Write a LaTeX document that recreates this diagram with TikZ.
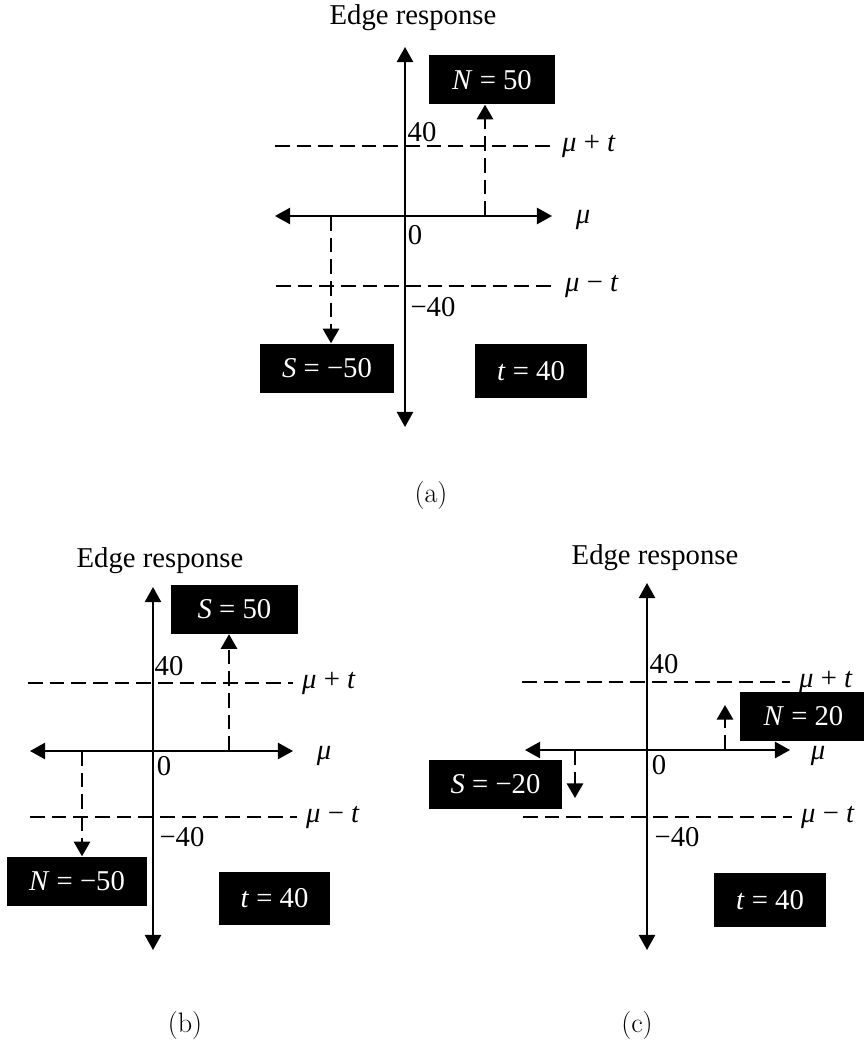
\documentclass[tikz,border=0pt]{standalone}
\usepackage{fontspec}
\usetikzlibrary{arrows.meta}
\newfontfamily\tnr{Liberation Serif}
\tikzset{
  valbox/.style={fill=black,text=white,inner xsep=0.66cm,minimum width=3.8cm,minimum height=1.47cm},
  tbox/.style={minimum width=0pt,minimum height=1.6cm},
  thl/.style={anchor=west,inner sep=0.27cm},
  axx/.style={line width=1.6pt,{Triangle[length=13pt,width=14pt]}-{Triangle[length=13pt,width=14pt]}},
  thr/.style={line width=1.5pt,dash pattern=on 12.5pt off 6pt},
  drop/.style={thr,-{Triangle[length=12.5pt,width=14pt]}},
  capt/.style={font=\rmfamily\fontsize{24}{28}\selectfont},
}

\begin{document}
\begin{tikzpicture}[x=0.03cm,y=-0.03cm,every node/.style={font=\tnr\fontsize{24.5}{29}\selectfont}]
\useasboundingbox (0,0) rectangle (863,1044);
% (a)
\node (a_ttl) at (413,18) {Edge response};
\coordinate (a_top) at (405,47);
\coordinate (a_bot) at (405,427);
\coordinate (a_lft) at (275,216);
\coordinate (a_rgt) at (552,216);
\draw[axx] (a_bot) -- (a_top);
\draw[axx] (a_lft) -- (a_rgt);
\node (a_mu) at (583,220) {\textit{μ}};
\node[thl] (a_up) at (553,146) {\textit{μ} + \textit{t}};
\node[thl] (a_dn) at (556,286) {\textit{μ} − \textit{t}};
\coordinate (a_ul) at (275,146);
\coordinate (a_dl) at (276,286);
\draw[thr] (a_ul) -- (a_up);
\draw[thr] (a_dl) -- (a_dn);
\node (a_p40) at (422,132) {40};
\node (a_z) at (415,235) {0};
\node (a_m40) at (433,307) {−40};
\node[valbox] (a_n) at (492,80) {\textit{N} = 50};
\node[valbox] (a_s) at (327,368) {\textit{S} = −50};
\node[valbox,tbox] (a_t) at (531,371) {\textit{t} = 40};
\coordinate (a_nx) at (485,216);
\coordinate (a_sx) at (331,216);
\draw[drop] (a_nx) -- (a_nx |- a_n.south);
\draw[drop] (a_sx) -- (a_sx |- a_s.north);
\node[capt] (a_cap) at (431,495) {(a)};
% (b)
\node (b_ttl) at (160,561) {Edge response};
\coordinate (b_top) at (153,587);
\coordinate (b_bot) at (153,950);
\coordinate (b_lft) at (30,751);
\coordinate (b_rgt) at (293,751);
\draw[axx] (b_bot) -- (b_top);
\draw[axx] (b_lft) -- (b_rgt);
\node (b_mu) at (324,756) {\textit{μ}};
\node[thl] (b_up) at (293,683) {\textit{μ} + \textit{t}};
\node[thl] (b_dn) at (297,817) {\textit{μ} − \textit{t}};
\coordinate (b_ul) at (28,683);
\coordinate (b_dl) at (30,817);
\draw[thr] (b_ul) -- (b_up);
\draw[thr] (b_dl) -- (b_dn);
\node (b_p40) at (169,666) {40};
\node (b_z) at (164,766) {0};
\node (b_m40) at (182,837) {−40};
\node[valbox] (b_s) at (234.5,609.5) {\textit{S} = 50};
\node[valbox] (b_n) at (77,881) {\textit{N} = −50};
\node[valbox,tbox] (b_t) at (274.5,898.5) {\textit{t} = 40};
\coordinate (b_sx) at (229,751);
\coordinate (b_nx) at (82,751);
\draw[drop] (b_sx) -- (b_sx |- b_s.south);
\draw[drop] (b_nx) -- (b_nx |- b_n.north);
\node[capt] (b_cap) at (185,1025) {(b)};
% (c)
\node (c_ttl) at (655,558) {Edge response};
\coordinate (c_top) at (647,583);
\coordinate (c_bot) at (647,950);
\coordinate (c_lft) at (525,750);
\coordinate (c_rgt) at (790,750);
\draw[axx] (c_bot) -- (c_top);
\draw[axx] (c_lft) -- (c_rgt);
\node (c_mu) at (818,756) {\textit{μ}};
\node[thl] (c_up) at (790,682) {\textit{μ} + \textit{t}};
\node[thl] (c_dn) at (792,817) {\textit{μ} − \textit{t}};
\coordinate (c_ul) at (522,682);
\coordinate (c_dl) at (523,817);
\draw[thr] (c_ul) -- (c_up);
\draw[thr] (c_dl) -- (c_dn);
\node (c_p40) at (664,664) {40};
\node (c_z) at (659,765) {0};
\node (c_m40) at (677,837) {−40};
\node[valbox] (c_n) at (803.5,716.5) {\textit{N} = 20};
\node[valbox] (c_s) at (495.5,784) {\textit{S} = −20};
\node[valbox,tbox] (c_t) at (770,900) {\textit{t} = 40};
\coordinate (c_nx) at (725,750);
\coordinate (c_nt) at (725,705);
\coordinate (c_sx) at (575,750);
\coordinate (c_st) at (575,798);
\draw[drop] (c_nx) -- (c_nt);
\draw[drop] (c_sx) -- (c_st);
\node[capt] (c_cap) at (637,1025) {(c)};
\end{tikzpicture}
\end{document}
